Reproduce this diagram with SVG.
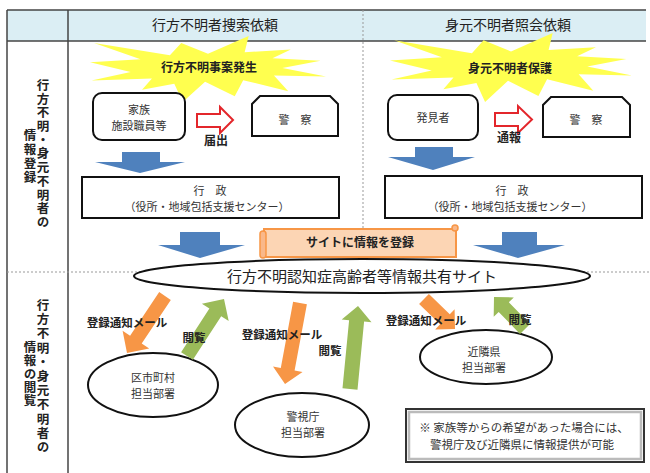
<svg xmlns="http://www.w3.org/2000/svg" width="650" height="473" viewBox="0 0 650 473">
<style>
text{font-family:"Noto Sans CJK JP","Noto Sans",sans-serif;fill:#222;text-anchor:middle}
.hd{font-size:14px}
.vt{font-size:12.5px;font-weight:bold;writing-mode:vertical-rl;text-anchor:start}
.bt{font-size:12px;font-weight:bold}
.lb{font-size:11px;fill:#333}
.ml{font-size:11.5px;font-weight:bold}
.box{fill:#fff;stroke:#111;stroke-width:2}
.grid{stroke:#444;stroke-width:1.5;fill:none}
.dot{stroke:#999;stroke-width:1;stroke-dasharray:2 2;fill:none}
.blue{fill:#4f81bd}
.red{fill:#fff;stroke:#e3262b;stroke-width:2;stroke-linejoin:miter}
.org{fill:#f79646}
.grn{fill:#9bbb59}
.burst{fill:#ffff4f}
</style>
<defs>
<polygon id="seal" points="10800,5800 14522,0 14155,5325 18380,4457 16702,7315 21097,8137 17607,10475 21600,13290 16837,12942 18145,18095 14020,14457 13247,19737 10532,14935 8485,21600 7715,15627 4762,17617 5667,13937 135,14587 3722,11775 0,8615 4627,7617 370,2295 7312,6320 8352,2295"/>
</defs>
<rect width="650" height="473" fill="#fff"/>
<g id="table">
<rect x="7" y="10" width="639" height="31" fill="#dbeef4"/>
<line class="grid" x1="7" y1="10" x2="646" y2="10"/>
<line class="grid" x1="7" y1="41" x2="646" y2="41"/>
<line class="grid" x1="7" y1="10" x2="7" y2="473"/>
<line class="grid" x1="68" y1="10" x2="68" y2="473"/>
<line class="dot" x1="363" y1="10" x2="363" y2="229"/>
<line class="dot" x1="7" y1="272" x2="650" y2="272"/>
<text class="hd" x="215" y="30">行方不明者捜索依頼</text>
<text class="hd" x="508" y="30">身元不明者照会依頼</text>
</g>
<g id="row-label-top">
<text class="vt" x="43" y="79" style="letter-spacing:1.2px">行方不明・身元不明者の</text>
<text class="vt" x="30" y="129" style="letter-spacing:1.5px">情報登録</text>
</g>
<g id="row-label-bottom">
<text class="vt" x="43" y="299" style="letter-spacing:1.7px">行方不明・身元不明者の</text>
<text class="vt" x="30" y="341" style="letter-spacing:0.8px">情報の閲覧</text>
</g>
<g id="burst-left">
<use href="#seal" class="burst" transform="translate(90,36) scale(0.010926,0.0030556)"/>
<text class="bt" x="209" y="72">行方不明事案発生</text>
</g>
<g id="burst-right">
<use href="#seal" class="burst" transform="translate(390,33) scale(0.011204,0.0031944)"/>
<text class="bt" x="510" y="73">身元不明者保護</text>
</g>
<g id="family">
<rect class="box" x="93" y="93" width="92" height="47" rx="9"/>
<text class="lb" x="139" y="114">家族</text>
<text class="lb" x="139" y="130">施設職員等</text>
</g>
<g id="police-left">
<path class="box" d="M260,96 H330 L338,104 V136 H252 V104 Z"/>
<text class="lb" x="295" y="124">警　察</text>
</g>
<g id="finder">
<rect class="box" x="388" y="95" width="90" height="45" rx="9"/>
<text class="lb" x="433" y="122">発見者</text>
</g>
<g id="police-right">
<path class="box" d="M551,97 H622 L630,105 V137 H543 V105 Z"/>
<text class="lb" x="586" y="124">警　察</text>
</g>
<g id="gov-left">
<rect class="box" x="82" y="177" width="257" height="41"/>
<text class="lb" x="210" y="195">行　政</text>
<text class="lb" x="207" y="211">（役所・地域包括支援センター）</text>
</g>
<g id="gov-right">
<rect class="box" x="385" y="176" width="257" height="42"/>
<text class="lb" x="512" y="195">行　政</text>
<text class="lb" x="510" y="211">（役所・地域包括支援センター）</text>
</g>
<g id="banner">
<rect x="264" y="229" width="192" height="28" fill="#fcd5b4" stroke="#f79646" stroke-width="2"/>
<rect x="260" y="231" width="6" height="27" rx="3" fill="#f9b88a" stroke="#f79646" stroke-width="1.5"/>
<circle cx="455" cy="228" r="3" fill="#f9b88a" stroke="#f79646" stroke-width="1.5"/>
<text class="bt" x="360" y="247">サイトに情報を登録</text>
</g>
<g id="site">
<ellipse cx="362" cy="276" rx="228" ry="17" fill="#fff" stroke="#111" stroke-width="2"/>
<text x="362" y="282" style="font-size:15px">行方不明認知症高齢者等情報共有サイト</text>
</g>
<g id="city">
<ellipse cx="153" cy="385" rx="65" ry="32" fill="#fff" stroke="#111" stroke-width="2"/>
<text class="lb" x="153" y="382">区市町村</text>
<text class="lb" x="153" y="398">担当部署</text>
</g>
<g id="mpd">
<ellipse cx="302" cy="425" rx="67" ry="32" fill="#fff" stroke="#111" stroke-width="2"/>
<text class="lb" x="303" y="421">警視庁</text>
<text class="lb" x="303" y="437">担当部署</text>
</g>
<g id="neighbor">
<ellipse cx="486" cy="357" rx="66" ry="27" fill="#fff" stroke="#111" stroke-width="2"/>
<text class="lb" x="484" y="356">近隣県</text>
<text class="lb" x="484" y="372">担当部署</text>
</g>
<g id="note">
<rect x="406" y="409" width="238" height="53" fill="#fff" stroke="#333" stroke-width="2"/>
<rect x="409" y="412" width="232" height="47" fill="none" stroke="#bbb" stroke-width="2.5"/>
<text class="lb" x="524" y="432" style="font-size:11.5px">※ 家族等からの希望があった場合には、</text>
<text class="lb" x="522" y="449" style="font-size:11.5px">警視庁及び近隣県に情報提供が可能</text>
</g>
<g id="connectors">
<polygon class="blue" points="122,152 160,152 160,162 185,162 140,173 95,162 122,162"/>
<polygon class="blue" points="415,147 453,147 453,157 475,157 433,170 388,157 415,157"/>
<polygon class="blue" points="180,232 220,232 220,245 245,245 200,258 158,245 180,245"/>
<polygon class="blue" points="502,232 537,232 537,245 565,245 518,258 473,245 502,245"/>
<polygon class="red" points="197,114 220,114 220,107 233,120 220,133 220,127 197,127"/>
<polygon class="red" points="495,113 518,113 518,106 532,119.5 518,133 518,126 495,126"/>
<polygon class="org" points="159.2,292.1 130.1,335.8 122.6,330.8 127,353 149.2,348.6 141.7,343.6 170.8,299.9"/>
<polygon class="grn" points="192.9,359.8 221.2,316.2 228.7,321.1 224,299 201.9,303.7 209.4,308.6 181.1,352.2"/>
<polygon class="org" points="293.1,301.7 280.8,368 273,366.6 285,384 302.5,372 294.6,370.6 306.9,304.3"/>
<polygon class="grn" points="357.5,389.7 364.1,321.6 371.5,322.3 358,306 341.7,319.5 349.1,320.2 342.5,388.3"/>
<polygon class="org" points="419.1,304 440.1,324.3 435.2,329.4 455,329 454.6,309.2 449.8,314.3 428.9,294"/>
<polygon class="grn" points="530,324.1 508.8,302.2 513.8,297.4 494,297 493.7,316.8 498.7,312 520,333.9"/>
<text class="bt" x="216" y="145">届出</text>
<text class="bt" x="509" y="142">通報</text>
<text class="ml" x="127" y="327">登録通知メール</text>
<text class="ml" x="194" y="342">閲覧</text>
<text class="ml" x="282" y="339">登録通知メール</text>
<text class="ml" x="330" y="355">閲覧</text>
<text class="ml" x="426" y="325">登録通知メール</text>
<text class="ml" x="520" y="324">閲覧</text>
</g>
</svg>
